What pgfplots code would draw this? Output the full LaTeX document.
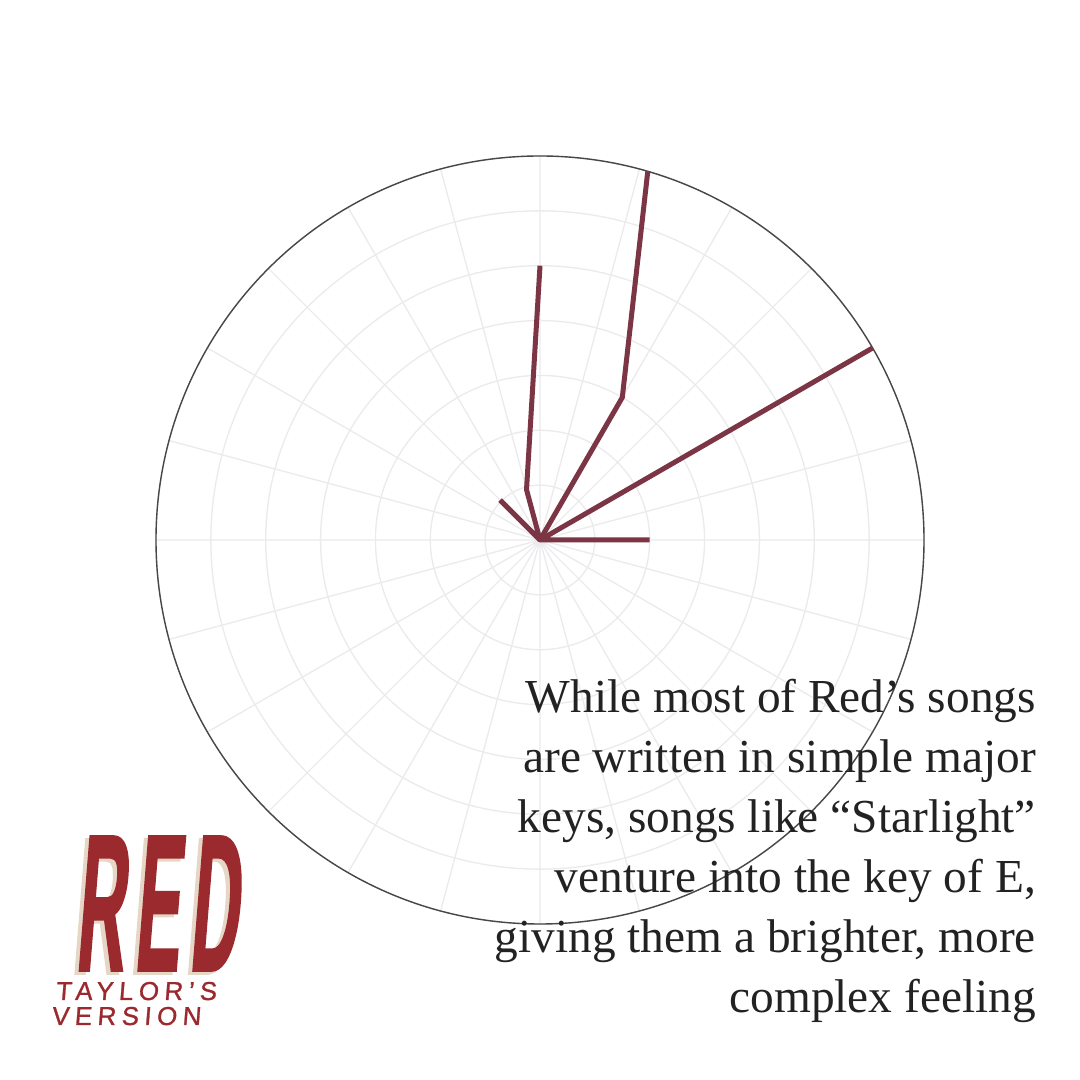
\documentclass[border=0pt]{standalone}
\usepackage{fontspec}
\setmainfont{Liberation Serif}
\newfontfamily\logofont[FakeStretch=0.345,FakeBold=0.8,LetterSpace=5]{Liberation Sans Bold}
\newfontfamily\subfont[LetterSpace=21,FakeBold=1]{Liberation Sans}
\usepackage{pgfplots}
\pgfplotsset{compat=1.18}
\usepgfplotslibrary{polar}
\definecolor{lineclr}{HTML}{7B3545}
\definecolor{logored}{HTML}{9B2A2F}
\definecolor{logoshadow}{HTML}{E6D6C6}
\definecolor{txt}{HTML}{222222}
\definecolor{gridclr}{HTML}{EBEBEE}
\begin{document}
\begin{tikzpicture}[x=1bp,y=1bp]
\useasboundingbox (0,0) rectangle (1080,1080);
\fill[white] (0,0) rectangle (1080,1080);
\begin{polaraxis}[
  at={(540bp,540bp)}, anchor=origin,
  scale only axis, width=768bp, height=768bp,
  xmin=0, xmax=360, ymin=0, ymax=7,
  xtick={0,15,...,345}, ytick={1,...,7},
  xticklabels={}, yticklabels={},
  grid=major,
  major grid style={draw=gridclr, line width=1.3bp},
  axis line style={draw=black!72, line width=1.4bp},
  y axis line style={draw=none},
  major tick length=0pt,
  clip=false,
]
\addplot[lineclr, line width=5bp, line join=round, line cap=butt] coordinates {(0,2) (0,0) (30,7)};
\addplot[lineclr, line width=5bp, line join=round, line cap=butt] coordinates {(0,0) (60,3) (73.7,7)};
\addplot[lineclr, line width=5bp, line join=round, line cap=butt] coordinates {(90,5) (105,0.95) (0,0) (135,1.03)};
\end{polaraxis}
% annotation text
\begin{scope}[every node/.style={anchor=base east, inner sep=0, text=txt, font=\fontsize{47.5}{56}\selectfont}]
\node at (1036,367) {While most of Red’s songs};
\node at (1036,307) {are written in simple major};
\node at (1036,247) {keys, songs like “Starlight”};
\node at (1036,187) {venture into the key of E,};
\node at (1036,127) {giving them a brighter, more};
\node at (1036,67) {complex feeling};
\end{scope}
% logo
\begin{scope}[xslant=0.08]
\node[anchor=base west, inner sep=0, text=logoshadow, transform shape] at (62,106) {\fontsize{197}{197}\logofont RED};
\node[anchor=base west, inner sep=0, text=logored, transform shape] at (66,109) {\fontsize{197}{197}\logofont RED};
\node[anchor=base west, inner sep=0, text=logored, transform shape] at (49,80) {\fontsize{26}{26}\subfont TAYLOR’S};
\node[anchor=base west, inner sep=0, text=logored, transform shape] at (47,55) {\fontsize{26}{26}\subfont VERSION};
\end{scope}
\end{tikzpicture}
\end{document}
